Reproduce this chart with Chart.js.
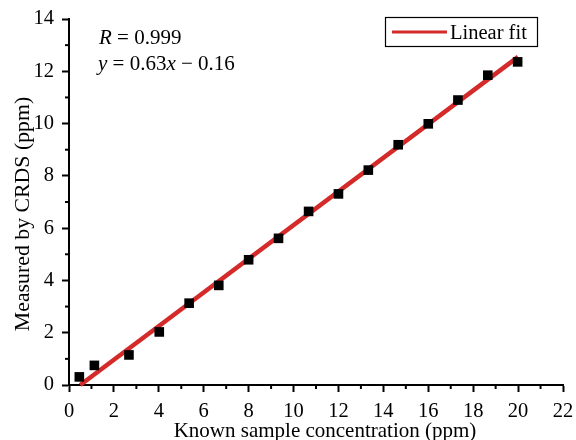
<!DOCTYPE html>
<html>
<head>
<meta charset="utf-8">
<script src="https://cdn.jsdelivr.net/npm/chart.js@4"></script>
<style>
  html, body { margin: 0; padding: 0; background: #fff; }
  #wrap { width: 576px; height: 440px; }
</style>
</head>
<body>
<div id="wrap"><canvas id="chart" width="576" height="440"></canvas></div>
<script>
  // known concentration vs. measured by CRDS
  const knownConc = [0.46, 1.13, 2.67, 4.02, 5.35, 6.67, 8.0, 9.33, 10.67, 12.0, 13.33, 14.66, 16.0, 17.32, 18.65, 19.98];
  const measured = [0.31, 0.75, 1.15, 2.03, 3.13, 3.81, 4.79, 5.61, 6.64, 7.31, 8.22, 9.19, 9.99, 10.9, 11.85, 12.36];
  // fitted line end points as drawn
  const fitX = [0.5, 20];
  const fitY = [0, 12.55];
  const xTicks = [0, 2, 4, 6, 8, 10, 12, 14, 16, 18, 20, 22];
  const yTicks = [0, 2, 4, 6, 8, 10, 12, 14];
  const xTitle = "Known sample concentration (ppm)";
  const yTitle = "Measured by CRDS (ppm)";

  const serif = "'Liberation Serif', 'Times New Roman', serif";
  const red = "rgb(212,42,42)";

  // minor ticks, axis titles, annotation and legend box
  const extras = {
    id: "extras",
    afterDraw(chart) {
      const ctx = chart.ctx;
      const xs = chart.scales.x;
      const ys = chart.scales.y;
      const area = chart.chartArea;
      ctx.save();
      ctx.strokeStyle = "#000";
      ctx.lineWidth = 2;
      // minor ticks at odd values
      for (let v = 1; v < 22; v += 2) {
        const px = xs.getPixelForValue(v);
        ctx.beginPath();
        ctx.moveTo(px, area.bottom);
        ctx.lineTo(px, area.bottom + 4);
        ctx.stroke();
      }
      for (let v = 1; v < 14; v += 2) {
        const py = ys.getPixelForValue(v);
        ctx.beginPath();
        ctx.moveTo(area.left, py);
        ctx.lineTo(area.left - 4, py);
        ctx.stroke();
      }

      ctx.fillStyle = "#000";
      // axis titles
      ctx.font = "21px " + serif;
      ctx.textAlign = "center";
      ctx.textBaseline = "alphabetic";
      ctx.fillText(xTitle, 325, 437);
      ctx.save();
      ctx.translate(29, 214);
      ctx.rotate(-Math.PI / 2);
      ctx.font = "21.8px " + serif;
      ctx.fillText(yTitle, 0, 0);
      ctx.restore();

      // R and equation text
      ctx.textAlign = "left";
      const drawParts = (parts, x, y) => {
        parts.forEach(([txt, italic]) => {
          ctx.font = (italic ? "italic " : "") + "21px " + serif;
          ctx.fillText(txt, x, y);
          x += ctx.measureText(txt).width;
        });
      };
      drawParts([["R", true], [" = 0.999", false]], 99, 44);
      drawParts([["y", true], [" = 0.63", false], ["x", true], [" \u2212 0.16", false]], 98, 70);

      // legend box
      const fit = chart.data.datasets[1];
      ctx.lineWidth = 1.2;
      ctx.strokeRect(385.5, 17.5, 152, 29);
      ctx.strokeStyle = fit.borderColor;
      ctx.lineWidth = 3;
      ctx.beginPath();
      ctx.moveTo(392, 32);
      ctx.lineTo(447, 32);
      ctx.stroke();
      ctx.font = "20.5px " + serif;
      ctx.fillText(fit.label, 450, 39);
      ctx.restore();
    }
  };

  new Chart(document.getElementById("chart"), {
    type: "scatter",
    data: {
      datasets: [
        {
          label: "Measured",
          data: knownConc.map((x, i) => ({ x: x, y: measured[i] })),
          pointStyle: "rect",
          pointRadius: 6.8,
          pointBackgroundColor: "#000",
          pointBorderColor: "#000",
          pointBorderWidth: 0,
          order: 1
        },
        {
          label: "Linear fit",
          type: "line",
          data: fitX.map((x, i) => ({ x: x, y: fitY[i] })),
          borderColor: red,
          borderWidth: 4.5,
          pointRadius: 0,
          fill: false,
          order: 2
        }
      ]
    },
    options: {
      responsive: false,
      animation: false,
      clip: false,
      layout: { padding: { left: 0, right: 13, top: 19, bottom: 0 } },
      plugins: { legend: { display: false }, tooltip: { enabled: false } },
      scales: {
        x: {
          type: "linear",
          min: 0,
          max: 22,
          afterBuildTicks: (s) => { s.ticks = xTicks.map((v) => ({ value: v })); },
          afterFit: (s) => { s.height = 55; s.paddingLeft = 0; s.paddingRight = 0; },
          grid: { drawOnChartArea: false, drawTicks: true, tickLength: 7, tickWidth: 2, tickColor: "#000" },
          border: { color: "#000", width: 2 },
          ticks: { color: "#000", font: { family: serif, size: 20.5 }, padding: 7, maxRotation: 0 },
          title: { display: false }
        },
        y: {
          type: "linear",
          min: 0,
          max: 14,
          afterBuildTicks: (s) => { s.ticks = yTicks.map((v) => ({ value: v })); },
          afterFit: (s) => { s.width = 69; s.paddingTop = 0; s.paddingBottom = 0; },
          grid: { drawOnChartArea: false, drawTicks: true, tickLength: 7, tickWidth: 2, tickColor: "#000" },
          border: { color: "#000", width: 2 },
          ticks: { color: "#000", font: { family: serif, size: 20.5 }, padding: 8 },
          title: { display: false }
        }
      }
    },
    plugins: [extras]
  });
</script>
</body>
</html>
